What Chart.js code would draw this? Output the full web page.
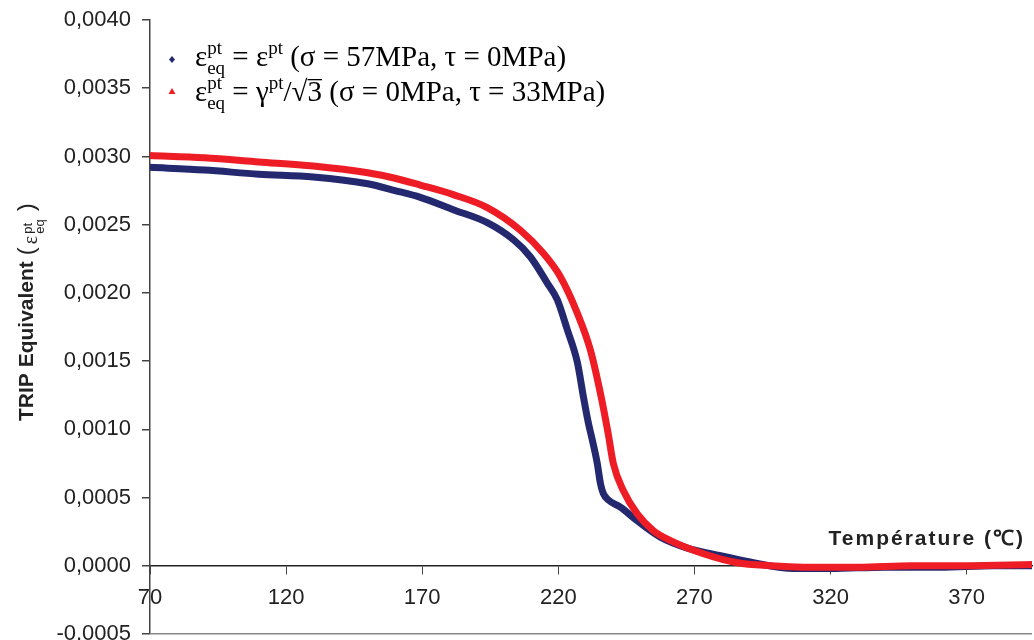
<!DOCTYPE html>
<html>
<head>
<meta charset="utf-8">
<script src="https://cdn.jsdelivr.net/npm/chart.js@4/dist/chart.umd.min.js"></script>
<style>
  html, body { margin: 0; padding: 0; background: #fff; }
  #wrap { width: 1034px; height: 640px; position: relative; }
</style>
</head>
<body>
<div id="wrap"><canvas id="myChart" width="1034" height="640"></canvas></div>
<script>
// values
const tempBlue = [70, 90, 110, 130, 150, 160, 169.3, 181.4, 193.9, 203.5, 209.7, 216, 219.6, 223.3, 227, 229.2,
  231, 232.5, 234.3, 235.5, 236.5, 238.5, 242.8, 249, 257.5, 267.4, 279.6, 291.7, 306.4, 320, 340, 360, 380, 394];
const tripBlue = [0.00292, 0.00290, 0.00287, 0.00285, 0.00280, 0.00275, 0.00270, 0.00261, 0.002515, 0.00239, 0.002265,
  0.00207, 0.00195, 0.00173, 0.00149, 0.00124, 0.00105, 0.00092, 0.00075, 0.00060, 0.00053, 0.00048, 0.00043, 0.00033,
  0.00021, 0.00013, 0.000074, 0.000022, -0.00002, -0.00002, -0.00001, -0.00001, 0, 0];

const tempRed = [70, 90, 110, 130, 150, 160, 169.3, 181.4, 193.9, 206, 214.5, 220.7, 227, 231.8, 235.4, 238.3,
  240.2, 243.9, 249, 254.9, 261.2, 273.3, 285.8, 298, 310, 330, 350, 370, 394];
const tripRed = [0.003007, 0.00299, 0.00296, 0.00293, 0.00288, 0.00284, 0.00279, 0.00272, 0.002625, 0.00246,
  0.00229, 0.00212, 0.00185, 0.00158, 0.00127, 0.00097, 0.00075, 0.00055, 0.00038, 0.000257, 0.000184, 0.000088,
  0.000022, 0, -0.00001, -0.00001, 0, 0, 0.00001];

const xTicks = [70, 120, 170, 220, 270, 320, 370];
const yMin = -0.0005, yMax = 0.004, yStep = 0.0005;

const blue = '#23286f';
const red = '#ee1c25';
const sans = '"Liberation Sans", Arial, sans-serif';
const serif = '"Liberation Serif", "Times New Roman", serif';

function pts(xs, ys) {
  return xs.map((x, i) => ({ x: x, y: ys[i] }));
}

// legend + axis titles, drawn with sub/superscripts
const extras = {
  id: 'extras',
  afterDraw(chart) {
    const c = chart.ctx;
    c.save();
    c.fillStyle = '#000';
    c.textBaseline = 'alphabetic';

    function run(x, y, parts) {
      for (const p of parts) {
        c.font = p.f;
        x += p.gap || 0;
        if (p.stack) {
          const w1 = c.measureText(p.sup).width, w2 = c.measureText(p.sub).width;
          c.fillText(p.sup, x, y - p.up);
          c.fillText(p.sub, x, y + p.down);
          x += Math.max(w1, w2);
        } else {
          c.fillText(p.t, x, y + (p.dy || 0));
          const w = c.measureText(p.t).width;
          if (p.over) {
            c.fillRect(x, y - p.over, w, 1.3);
          }
          x += w;
        }
      }
      return x;
    }

    const big = '29px ' + serif;
    const small = '19px ' + serif;

    // markers
    c.fillStyle = blue;
    c.beginPath();
    c.moveTo(172, 56); c.lineTo(175, 59.5); c.lineTo(172, 63); c.lineTo(169, 59.5); c.closePath(); c.fill();
    c.fillStyle = red;
    c.beginPath();
    c.moveTo(172, 88); c.lineTo(175.5, 94); c.lineTo(168.5, 94); c.closePath(); c.fill();

    c.fillStyle = '#000';
    run(195, 66, [
      { f: big, t: 'ε' },
      { f: small, stack: true, sup: 'pt', sub: 'eq', up: 12, down: 8 },
      { f: big, t: ' = ε' },
      { f: small, t: 'pt', dy: -12 },
      { f: big, t: ' (σ = 57MPa, τ = 0MPa)' }
    ]);
    run(195, 101, [
      { f: big, t: 'ε' },
      { f: small, stack: true, sup: 'pt', sub: 'eq', up: 12, down: 8 },
      { f: big, t: ' = γ' },
      { f: small, t: 'pt', dy: -12 },
      { f: big, t: '/√' },
      { f: big, t: '3', over: 22 },
      { f: big, t: ' (σ = 0MPa, τ = 33MPa)' }
    ]);

    // x title, above the axis at the right
    c.fillStyle = '#222';
    c.font = 'bold 21px ' + sans;
    c.letterSpacing = '2px';
    c.textAlign = 'right';
    c.fillText('Température (℃)', 1025, 545);
    c.letterSpacing = '0px';
    c.textAlign = 'left';

    // y title, rotated
    c.translate(33, 421);
    c.rotate(-Math.PI / 2);
    run(0, 0, [
      { f: 'bold 21px ' + sans, t: 'TRIP Equivalent' },
      { f: '300 24px ' + sans, t: '(', dy: 1, gap: 6 },
      { f: '20px ' + serif, t: 'ε', dy: 4, gap: 3 },
      { f: '13px ' + sans, stack: true, sup: 'pt', sub: 'eq', up: 1, down: 11, gap: 2 },
      { f: '300 24px ' + sans, t: ')', dy: 1, gap: 8 }
    ]);
    c.restore();
  }
};

const ctx = document.getElementById('myChart').getContext('2d');
const myChart = new Chart(ctx, {
  type: 'line',
  data: {
    datasets: [{
      label: 'blue',
      data: pts(tempBlue, tripBlue),
      borderColor: blue,
      borderWidth: 7,
      pointRadius: 0,
      cubicInterpolationMode: 'monotone',
      order: 1
    }, {
      label: 'red',
      data: pts(tempRed, tripRed),
      borderColor: red,
      borderWidth: 7,
      pointRadius: 0,
      cubicInterpolationMode: 'monotone',
      order: 0
    }]
  },
  options: {
    responsive: false,
    animation: false,
    layout: { padding: { left: 0, top: 20, right: 2, bottom: 6 } },
    plugins: {
      legend: { display: false },
      tooltip: { enabled: false }
    },
    scales: {
      x: {
        type: 'linear',
        position: { y: 0 },
        min: 70,
        max: 394,
        afterBuildTicks: s => { s.ticks = xTicks.map(v => ({ value: v })); },
        afterFit: s => { s.height = 0; s.paddingLeft = 0; s.paddingRight = 0; },
        border: { color: '#222', width: 1.5 },
        grid: { drawOnChartArea: false, tickLength: 8, color: '#444' },
        ticks: {
          color: '#222',
          padding: 11,
          maxRotation: 0,
          autoSkip: false,
          font: { family: sans, size: 22 }
        }
      },
      y: {
        min: yMin,
        max: yMax,
        afterFit: s => { s.width = 150; s.paddingTop = 0; s.paddingBottom = 0; },
        border: { color: '#444', width: 1.5 },
        grid: {
          tickLength: 8,
          color: c => (Math.abs(c.tick.value - yMin) < 1e-9 ? '#888' : 'rgba(0,0,0,0)'),
          tickColor: '#444',
          lineWidth: 1.5
        },
        ticks: {
          stepSize: yStep,
          autoSkip: false,
          color: '#222',
          padding: 11,
          font: { family: sans, size: 22 },
          callback: v => v.toFixed(4).replace('.', ',')
        }
      }
    }
  },
  plugins: [extras]
});
</script>
</body>
</html>
